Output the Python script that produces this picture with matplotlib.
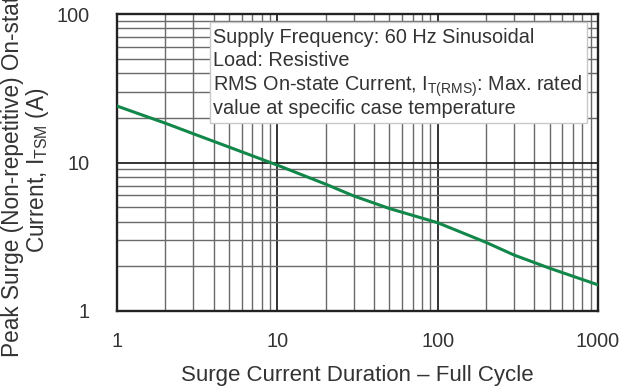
import matplotlib
matplotlib.use("Agg")
import matplotlib.pyplot as plt
from matplotlib.patches import Rectangle

plt.rcParams['font.family'] = ['Liberation Sans', 'DejaVu Sans']

# Data
duration = [1, 2, 3, 5, 10, 20, 30, 50, 100, 200, 300, 500, 1000]
itsm = [24.0, 18.4, 15.6, 12.7, 9.6, 7.15, 5.95, 4.9, 3.93, 2.9, 2.38, 1.94, 1.5]

x_ticks = [1, 10, 100, 1000]
x_ticklabels = ["1", "10", "100", "1000"]
y_ticks = [1, 10, 100]
y_ticklabels = ["1", "10", "100"]

note_lines = ["Supply Frequency: 60 Hz Sinusoidal",
              "Load: Resistive",
              r"RMS On-state Current, $\mathregular{I_{T(RMS)}}$: Max. rated",
              "value at specific case temperature"]

FS = 14.3
fig = plt.figure(figsize=(6.23, 3.91), dpi=100)
ax = fig.add_axes([117/623, 1-311/391, (598-117)/623, (311-14)/391])

ax.set_xscale('log')
ax.set_yscale('log')
ax.set_xlim(1, 1000)
ax.set_ylim(1, 100)

ax.grid(which='minor', color='#6a6a6a', linewidth=1.0)
ax.grid(which='major', color='#111111', linewidth=1.2)
ax.set_axisbelow(True)

ax.plot(duration, itsm, color='#12874a', linewidth=2.2, zorder=3)

ax.set_xticks(x_ticks)
ax.set_xticklabels(x_ticklabels)
ax.set_yticks(y_ticks)
ax.set_yticklabels(y_ticklabels)
ax.tick_params(which='both', length=0, labelsize=FS, colors='#333333')
ax.tick_params(axis='x', pad=15)
ax.tick_params(axis='y', pad=20)

for s in ax.spines.values():
    s.set_linewidth(1.7)
    s.set_color('#222222')

ax.set_xlabel("Surge Current Duration – Full Cycle", fontsize=16, color='#333333', labelpad=10)
ax.set_ylabel("Peak Surge (Non-repetitive) On-state\n" r"Current, $\mathregular{I_{TSM}}$ (A)",
              fontsize=16.3, color='#333333', linespacing=1.0, va='center')
ax.yaxis.set_label_coords(-0.19, 0.475)

ax.add_patch(Rectangle((0.1933, 0.633), 0.977 - 0.1933, 0.973 - 0.633, transform=ax.transAxes,
                       facecolor='white', edgecolor='#c8c8c8', linewidth=1.0, zorder=4))
baselines_px = [43, 66, 90.5, 113.5]
for line, ypx in zip(note_lines, baselines_px):
    ax.text(0.1996, (311 - ypx) / 297, line, transform=ax.transAxes, fontsize=FS,
            color='#333333', va='baseline', ha='left', zorder=5)

fig.savefig("out.png", dpi=100)
